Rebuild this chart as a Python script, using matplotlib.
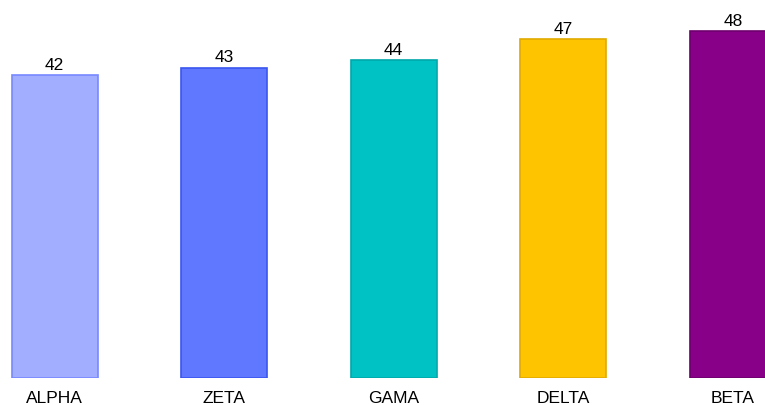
import matplotlib.pyplot as plt

plt.rcParams['font.family'] = ['Liberation Sans', 'DejaVu Sans']

categories = ["ALPHA", "ZETA", "GAMA", "DELTA", "BETA"]
values = [42, 43, 44, 47, 48]
fill_colors = ["#a2aeff", "#6078ff", "#00c2c4", "#ffc400", "#880088"]
edge_colors = ["#7888ff", "#3a56f0", "#00a8aa", "#e0aa00", "#6e006e"]

fig = plt.figure(figsize=(7.65, 4.05), dpi=100)
# axes spans from the bar baseline (y=378px) up to the top edge
ax = fig.add_axes([0, 27 / 405, 1, 378 / 405])

x = range(len(categories))
bars = ax.bar(x, values, width=0.507, color=fill_colors,
              edgecolor=edge_colors, linewidth=1.2)

for bar, v in zip(bars, values):
    ax.annotate(str(v), (bar.get_x() + bar.get_width() / 2, v),
                xytext=(0, 1.5), textcoords="offset points",
                ha="center", va="bottom", fontsize=12.5, color="black")

ax.set_xlim(-0.322, 4.19)
ax.set_ylim(0, 52.35)
ax.set_xticks(list(x))
ax.set_xticklabels(categories, fontsize=12.5)
ax.tick_params(axis="x", length=0, pad=9.5)
ax.set_yticks([])
for s in ax.spines.values():
    s.set_visible(False)

fig.savefig("out.png", dpi=100)
